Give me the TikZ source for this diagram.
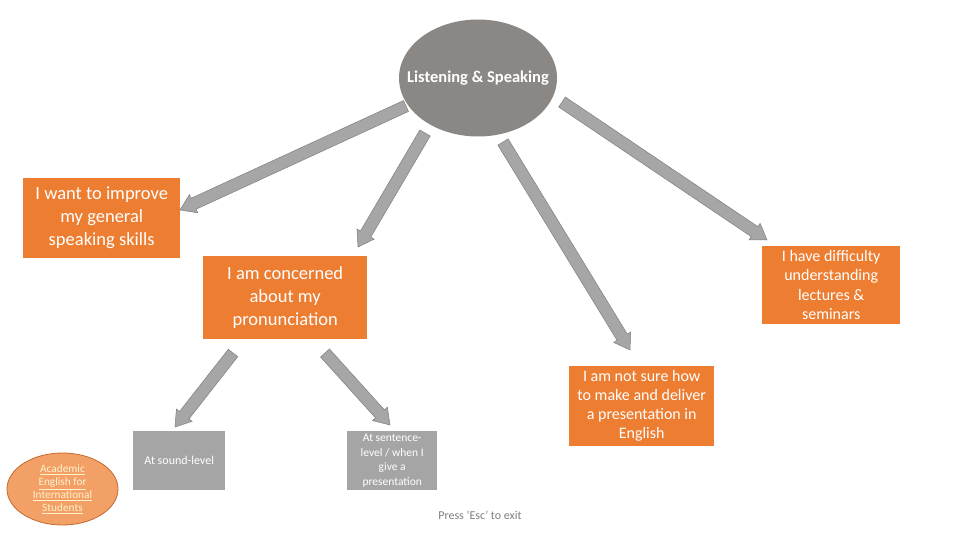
\documentclass[tikz,border=0pt]{standalone}
\usepackage{fontspec}
\setmainfont{Carlito}
\usetikzlibrary{calc,shapes.geometric}
\definecolor{orng}{HTML}{ED7D31}
\definecolor{ellgray}{HTML}{8B8784}
\definecolor{boxgray}{HTML}{A5A5A5}
\definecolor{arrfill}{HTML}{A6A6A6}
\definecolor{arredge}{HTML}{7F7F7F}
\definecolor{smallfill}{HTML}{F2A066}
\definecolor{smalledge}{HTML}{C46A2E}
\definecolor{linkcol}{HTML}{FFF2CC}
\tikzset{
  obox/.style={fill=orng, draw=none, text=white, align=center, anchor=north west, inner sep=0pt},
  gbox/.style={fill=boxgray, draw=none, text=white, align=center, anchor=north west, inner sep=0pt},
  blockarrow/.style={fill=arrfill, draw=arredge, line width=0.5pt, line join=miter},
}
\newcommand\barrow[2]{%
  \path[blockarrow] let \p1=(#1), \p2=(#2), \n1={atan2(\y2-\y1,\x2-\x1)}, \n3={\n1+90}, \n4={\n1-90} in
    ($(\p1)+(\n3:6pt)$) -- ($(\p2)+(\n1:-15pt)+(\n3:6pt)$) -- ($(\p2)+(\n1:-15pt)+(\n3:10pt)$) -- (\p2)
    -- ($(\p2)+(\n1:-15pt)+(\n4:10pt)$) -- ($(\p2)+(\n1:-15pt)+(\n4:6pt)$) -- ($(\p1)+(\n4:6pt)$) -- cycle;
}
\begin{document}
\begin{tikzpicture}[x=1pt,y=-1pt]
\useasboundingbox (0,0) rectangle (960,540);
\fill[white] (0,0) rectangle (960,540);

% central ellipse
\node[ellipse, fill=ellgray, minimum width=158pt, minimum height=117pt, inner sep=0pt,
      label={[text=white, font=\bfseries\fontsize{16.5}{18}\selectfont]center:Listening \& Speaking}] (ls) at (478,78) {};

% orange boxes
\node[obox, minimum width=157pt, minimum height=80pt, font=\fontsize{18.5}{23}\selectfont] (b1) at (23,178)
  {I want to improve\\my general\\speaking skills};
\node[obox, minimum width=164pt, minimum height=83pt, font=\fontsize{18.5}{23}\selectfont] (b2) at (203,256)
  {I am concerned\\about my\\pronunciation};
\node[obox, minimum width=138pt, minimum height=78pt, font=\fontsize{16}{19.5}\selectfont] (b3) at (762,246)
  {I have difficulty\\understanding\\lectures \&\\seminars};
\node[obox, minimum width=145pt, minimum height=80pt, font=\fontsize{16}{19}\selectfont] (b4) at (569,366)
  {I am not sure how\\to make and deliver\\a presentation in\\English};

% gray boxes
\node[gbox, minimum width=92pt, minimum height=59pt, font=\fontsize{12}{14.5}\selectfont] (g1) at (133,431)
  {At sound-level};
\node[gbox, minimum width=90pt, minimum height=59pt, font=\fontsize{11.5}{14.5}\selectfont] (g2) at (347,431)
  {At sentence-\\level / when I\\give a\\presentation};

% small ellipse
\node[ellipse, fill=smallfill, draw=smalledge, line width=0.8pt, minimum width=111pt, minimum height=72pt,
      inner sep=0pt, label={[text=linkcol, align=center, font=\fontsize{11.3}{13}\selectfont]center:{\underline{Academic}\\\underline{English for}\\\underline{International}\\\underline{Students}}}] (aeis) at (62.5,489) {};

% exit text
\node[text=arredge, font=\fontsize{12}{14}\selectfont] (esc) at (480,515) {Press ‘Esc’ to exit};

% arrow endpoints
\coordinate (a1s) at (406,106); \coordinate (a1e) at (180,210);
\coordinate (a2s) at (425,133); \coordinate (a2e) at (358,247);
\coordinate (a3s) at (503,142); \coordinate (a3e) at (630,350);
\coordinate (a4s) at (562,102); \coordinate (a4e) at (767,240);
\coordinate (a5s) at (233,353); \coordinate (a5e) at (175,427);
\coordinate (a6s) at (325,353); \coordinate (a6e) at (390,425);

\barrow{a1s}{a1e}
\barrow{a2s}{a2e}
\barrow{a3s}{a3e}
\barrow{a4s}{a4e}
\barrow{a5s}{a5e}
\barrow{a6s}{a6e}
\end{tikzpicture}
\end{document}
